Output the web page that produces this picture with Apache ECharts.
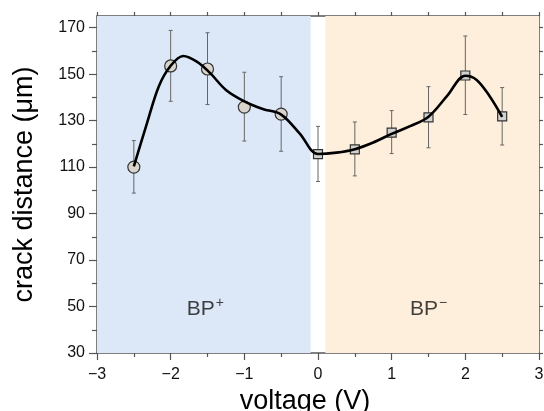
<!DOCTYPE html>
<html lang="en">
<head>
  <meta charset="UTF-8">
  <title>crack distance vs voltage</title>
  <script src="https://cdn.jsdelivr.net/npm/echarts@6/dist/echarts.min.js"></script>
</head>
<body style="margin:0; background:#fff;">
<div id="main" style="width:544px; height:411px;"></div>
<script>
// measured points
var voltage  = [-2.5, -2, -1.5, -1, -0.5, 0, 0.5, 1, 1.5, 2, 2.5];
var distance = [110, 153.5, 152.2, 135.8, 132.8, 115.6, 117.6, 124.8, 131.4, 149.4, 131.8];
var errLow   = [98.8, 138.3, 136.9, 121.2, 116.8, 103.8, 106.2, 115.8, 118.3, 132.6, 119.5];
var errHigh  = [121.4, 168.8, 167.8, 150.8, 148.9, 127.5, 129.4, 134.3, 144.6, 166.4, 144.2];

// fitted curve
var curveX = [-2.5, -2.32, -2.16, -2.0, -1.83, -1.64, -1.46, -1.25, -1.0, -0.75, -0.5, -0.25, 0,
              0.25, 0.5, 0.75, 1.0, 1.25, 1.5, 1.75, 2.0, 2.15, 2.33, 2.5];
var curveY = [110.3, 129, 144.8, 153.6, 157.8, 155.3, 150.3, 143.2, 138.3, 135, 132.6, 124.5, 115.6,
              116.2, 117.7, 120.6, 124.3, 127.6, 131.7, 140.5, 149.3, 147.6, 140.5, 131.6];

// shaded regions and their labels
var regions = [[-3, -0.1], [0.1, 3]];
var regionColors = ['#dce8f8', '#fdefdc'];
var regionLabels = [['BP', '+'], ['BP', '\u2212']];
var labelPos = [[-1.53, 48.7], [1.5, 48.7]];

var yMajor = [30, 50, 70, 90, 110, 130, 150, 170];
var yMinor = [40, 60, 80, 100, 120, 140, 160];
var yAll = [30, 40, 50, 60, 70, 80, 90, 100, 110, 120, 130, 140, 150, 160, 170];

var font = 'Liberation Sans, Arial, Helvetica, sans-serif';
var axisCol = '#555';

var chart = echarts.init(document.getElementById('main'));

var pts = voltage.map(function (v, i) { return [v, distance[i]]; });
var bars = voltage.map(function (v, i) { return [v, errLow[i], errHigh[i]]; });

var option = {
  animation: false,
  grid: { left: 97, right: 5, top: 16, bottom: 58, containLabel: false, outerBoundsMode: 'none' },
  xAxis: [{
    type: 'value', position: 'bottom', min: -3, max: 3, interval: 1,
    axisLine: { onZero: false, lineStyle: { color: axisCol, width: 1.5 } },
    axisTick: { length: 7, lineStyle: { color: axisCol, width: 1.2 } },
    minorTick: { show: true, splitNumber: 2, length: 4, lineStyle: { color: axisCol, width: 1.2 } },
    splitLine: { show: false },
    axisLabel: {
      margin: 14, color: '#111', fontSize: 16, fontFamily: font,
      formatter: function (v) { return v < 0 ? '\u2212' + (-v) : '' + v; }
    },
    name: 'voltage (V)', nameLocation: 'middle', nameGap: 29,
    nameTextStyle: { fontSize: 27, color: '#000', fontFamily: font, padding: [0, 26, 0, 0] }
  }, {
    type: 'value', position: 'top', min: -3, max: 3, interval: 0.5,
    axisLine: { show: true, onZero: false, lineStyle: { color: axisCol, width: 1.5 } },
    axisTick: { show: true, length: 4, lineStyle: { color: axisCol, width: 1.2 } },
    axisLabel: { show: false }, splitLine: { show: false }
  }],
  yAxis: [{
    type: 'value', position: 'left', min: 30, max: 175,
    axisLine: { show: true, onZero: false, lineStyle: { color: axisCol, width: 1.5 } },
    axisTick: { show: true, length: 8, customValues: yMajor, lineStyle: { color: axisCol, width: 1.2 } },
    axisLabel: { customValues: yMajor, margin: 12, color: '#111', fontSize: 16, fontFamily: font },
    splitLine: { show: false },
    name: 'crack distance (\u03bcm)', nameLocation: 'middle', nameGap: 59,
    nameTextStyle: { fontSize: 27, color: '#000', fontFamily: font }
  }, {
    type: 'value', position: 'right', min: 30, max: 175,
    axisLine: { show: true, onZero: false, lineStyle: { color: axisCol, width: 1.5 } },
    axisTick: { show: true, length: 4, customValues: yAll, lineStyle: { color: axisCol, width: 1.2 } },
    axisLabel: { show: false }, splitLine: { show: false }
  }, {
    type: 'value', position: 'left', min: 30, max: 175,
    axisLine: { show: false, onZero: false },
    axisTick: { show: true, length: 5, customValues: yMinor, lineStyle: { color: axisCol, width: 1.2 } },
    axisLabel: { show: false }, splitLine: { show: false }
  }],
  series: [{
    type: 'scatter', data: [], silent: true,
    markArea: {
      silent: true,
      data: regions.map(function (r, i) {
        return [{ xAxis: r[0], yAxis: 30, itemStyle: { color: regionColors[i] } }, { xAxis: r[1], yAxis: 175 }];
      })
    }
  }, {
    type: 'custom', z: 3,
    renderItem: function (params, api) {
      var x = api.value(0);
      var lo = api.coord([x, api.value(1)]);
      var hi = api.coord([x, api.value(2)]);
      var cw = 2;
      var st = { stroke: '#666', lineWidth: 1 };
      return {
        type: 'group',
        children: [
          { type: 'line', shape: { x1: lo[0], y1: lo[1], x2: hi[0], y2: hi[1] }, style: st },
          { type: 'line', shape: { x1: lo[0] - cw, y1: lo[1], x2: lo[0] + cw, y2: lo[1] }, style: st },
          { type: 'line', shape: { x1: hi[0] - cw, y1: hi[1], x2: hi[0] + cw, y2: hi[1] }, style: st }
        ]
      };
    },
    data: bars
  }, {
    type: 'scatter', z: 4, symbol: 'circle', symbolSize: 12,
    itemStyle: { color: '#d9d5cc', borderColor: '#333', borderWidth: 1.2, opacity: 1 },
    data: pts.filter(function (p) { return p[0] < 0; })
  }, {
    type: 'scatter', z: 4, symbol: 'rect', symbolSize: 9,
    itemStyle: { color: '#d2d2d0', borderColor: '#333', borderWidth: 1.2, opacity: 1 },
    data: pts.filter(function (p) { return p[0] >= 0; })
  }, {
    type: 'line', z: 5, smooth: 0.35, showSymbol: false, symbol: 'none',
    lineStyle: { color: '#000', width: 2.6 },
    data: curveX.map(function (x, i) { return [x, curveY[i]]; })
  }, {
    type: 'scatter', z: 6, symbolSize: 0, silent: true,
    data: labelPos,
    label: {
      show: true, position: 'inside',
      formatter: function (p) { return '{b|' + regionLabels[p.dataIndex][0] + '}{s|' + regionLabels[p.dataIndex][1] + '}'; },
      rich: {
        b: { fontSize: 21, color: '#111', fontFamily: font },
        s: { fontSize: 14, color: '#111', fontFamily: font, verticalAlign: 'top', padding: [0, 0, 12, 1] }
      }
    }
  }]
};

chart.setOption(option);
</script>
</body>
</html>
